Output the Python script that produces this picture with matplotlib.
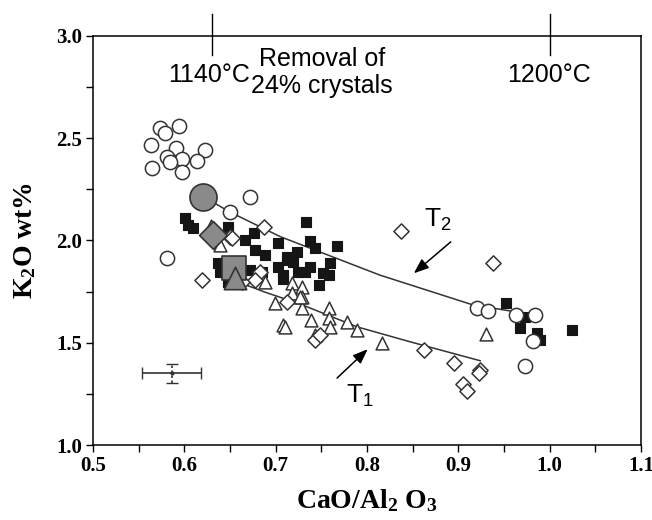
import numpy as np
import matplotlib
matplotlib.use('Agg')
import matplotlib.pyplot as plt

# open circles
circ_x = [0.573, 0.579, 0.594, 0.564, 0.591, 0.623, 0.581, 0.598, 0.584, 0.614, 0.565, 0.597,
          0.672, 0.581, 0.650, 0.920, 0.933, 0.963, 0.984, 0.982, 0.973]
circ_y = [2.549, 2.527, 2.561, 2.467, 2.451, 2.443, 2.407, 2.397, 2.384, 2.389, 2.353, 2.336,
          2.214, 1.913, 2.141, 1.671, 1.657, 1.636, 1.637, 1.509, 1.388]

# filled squares
sq_x = [0.601, 0.604, 0.610, 0.648, 0.733, 0.666, 0.676, 0.703, 0.738, 0.743, 0.767, 0.677,
        0.688, 0.712, 0.723, 0.637, 0.639, 0.672, 0.685, 0.703, 0.719, 0.738, 0.760, 0.725,
        0.732, 0.752, 0.708, 0.747, 0.648, 0.661, 0.712, 0.758, 0.708,
        0.952, 0.973, 0.968, 0.986, 0.989, 1.025]
sq_y = [2.109, 2.076, 2.060, 2.068, 2.092, 2.002, 2.035, 1.989, 1.999, 1.962, 1.973, 1.954,
        1.929, 1.921, 1.945, 1.889, 1.847, 1.856, 1.847, 1.869, 1.896, 1.872, 1.889, 1.847,
        1.847, 1.840, 1.810, 1.782, 1.799, 1.815, 1.905, 1.831, 1.831,
        1.693, 1.627, 1.571, 1.546, 1.513, 1.562]

# open triangles
tri_x = [0.629, 0.639, 0.688, 0.718, 0.729, 0.729, 0.718, 0.699, 0.729, 0.758, 0.758, 0.760,
         0.708, 0.739, 0.778, 0.743, 0.710, 0.789, 0.816, 0.727, 0.930]
tri_y = [2.071, 1.978, 1.799, 1.791, 1.774, 1.725, 1.742, 1.693, 1.668, 1.668, 1.620, 1.578,
         1.587, 1.611, 1.603, 1.538, 1.578, 1.562, 1.497, 1.725, 1.541]

# open diamonds
dia_x = [0.687, 0.650, 0.619, 0.652, 0.683, 0.677, 0.663, 0.712, 0.743, 0.749, 0.837, 0.938,
         0.862, 0.895, 0.924, 0.923, 0.905, 0.909]
dia_y = [2.067, 2.016, 1.807, 2.011, 1.847, 1.807, 1.799, 1.701, 1.513, 1.538, 2.048, 1.889,
         1.465, 1.400, 1.367, 1.354, 1.298, 1.266]

# large grey starting compositions
grey_circle = (0.621, 2.214)
grey_square = (0.654, 1.864)
grey_triangle = (0.656, 1.815)
grey_diamond = (0.631, 2.027)

# fractionation trends
t1_x = [0.656, 0.688, 0.727, 0.789, 0.847, 0.924]
t1_y = [1.802, 1.748, 1.689, 1.578, 1.505, 1.412]
t2_x = [0.621, 0.650, 0.705, 0.814, 0.916, 0.984]
t2_y = [2.214, 2.139, 2.019, 1.831, 1.685, 1.636]

# analytical error
err_x, err_y = 0.586, 1.351
err_dx, err_dy = 0.032, 0.046

serif = 'Liberation Serif'
sans = 'Liberation Sans'
plt.rcParams['mathtext.default'] = 'regular'

fig = plt.figure(figsize=(6.52, 5.2), dpi=100)
ax = fig.add_axes([0.1426, 0.1442, 0.8405, 0.7866])

edge = '#333333'
ax.plot(t2_x, t2_y, color='#333333', lw=1.1, zorder=2)
ax.plot(t1_x, t1_y, color='#333333', lw=1.1, zorder=2)

ax.scatter(sq_x, sq_y, marker='s', s=62, facecolor='#151515', edgecolor='#151515', lw=0.8, zorder=3)
ax.scatter(circ_x, circ_y, marker='o', s=105, facecolor='white', edgecolor=edge, lw=1.1, zorder=4)
ax.scatter(tri_x, tri_y, marker='^', s=85, facecolor='white', edgecolor=edge, lw=1.1, zorder=4)
ax.scatter(dia_x, dia_y, marker='D', s=60, facecolor='white', edgecolor=edge, lw=1.1, zorder=4)

grey = '#8a8a8a'
ax.scatter(*grey_circle, marker='o', s=380, facecolor=grey, edgecolor=edge, lw=1.2, zorder=5)
ax.scatter(*grey_square, marker='s', s=300, facecolor=grey, edgecolor=edge, lw=1.2, zorder=5)
ax.scatter(*grey_triangle, marker='^', s=260, facecolor=grey, edgecolor=edge, lw=1.2, zorder=6)
ax.scatter(*grey_diamond, marker='D', s=200, facecolor=grey, edgecolor=edge, lw=1.2, zorder=5)

# error bar (dotted vertical)
ax.errorbar(err_x, err_y, xerr=err_dx, fmt='none', ecolor='#333333', elinewidth=1.2, capsize=4)
eb = ax.errorbar(err_x, err_y, yerr=err_dy, fmt='none', ecolor='#333333', elinewidth=1.2, capsize=4)
eb[2][0].set_linestyle((0, (1.5, 1.5)))
ax.plot(err_x, err_y, 'o', ms=2, color='#333333')

# trend labels
ax.annotate('', xy=(0.849, 1.831), xytext=(0.894, 2.002),
            arrowprops=dict(arrowstyle='-|>,head_length=0.9,head_width=0.35', color='black', lw=1.1))
ax.annotate('', xy=(0.803, 1.478), xytext=(0.765, 1.318),
            arrowprops=dict(arrowstyle='-|>,head_length=0.9,head_width=0.35', color='black', lw=1.1))
ax.text(0.877, 2.10, 'T$_2$', family=sans, fontsize=19, ha='center', va='center')
ax.text(0.792, 1.24, 'T$_1$', family=sans, fontsize=19, ha='center', va='center')

# top temperature ticks and text
for xt in [0.630, 1.0]:
    ax.plot([xt, xt], [0.953, 1.054], transform=ax.get_xaxis_transform(),
            color='black', lw=1.0, clip_on=False)
ax.text(0.627, 2.81, '1140°C', family=sans, fontsize=18, ha='center', va='center')
ax.text(0.999, 2.81, '1200°C', family=sans, fontsize=18, ha='center', va='center')
ax.text(0.751, 2.82, 'Removal of\n24% crystals', family=sans, fontsize=18,
        ha='center', va='center', linespacing=1.15)

ax.set_xlim(0.5, 1.1)
ax.set_ylim(1.0, 3.0)
ax.set_xticks(np.arange(0.5, 1.101, 0.1))
ax.set_xticks(np.arange(0.55, 1.1, 0.1), minor=True)
ax.set_yticks(np.arange(1.0, 3.01, 0.5))
ax.set_yticks(np.arange(1.25, 3.0, 0.5), minor=True)
ax.set_xticklabels(['%.1f' % v for v in np.arange(0.5, 1.101, 0.1)])
ax.set_yticklabels(['%.1f' % v for v in np.arange(1.0, 3.01, 0.5)])
ax.tick_params(which='both', direction='out', length=5, width=1.0, top=False, right=False)
ax.tick_params(axis='both', which='major', pad=3)
for lab in ax.get_xticklabels() + ax.get_yticklabels():
    lab.set_family(serif)
    lab.set_fontweight('bold')
    lab.set_fontsize(15)
for sp in ax.spines.values():
    sp.set_linewidth(1.1)

ax.set_xlabel('CaO/Al$_2$ O$_3$', family=serif, fontweight='bold', fontsize=20, labelpad=8)
ax.set_ylabel('K$_2$O wt%', family=serif, fontweight='bold', fontsize=20, labelpad=13)

fig.savefig('out.png', dpi=100)
